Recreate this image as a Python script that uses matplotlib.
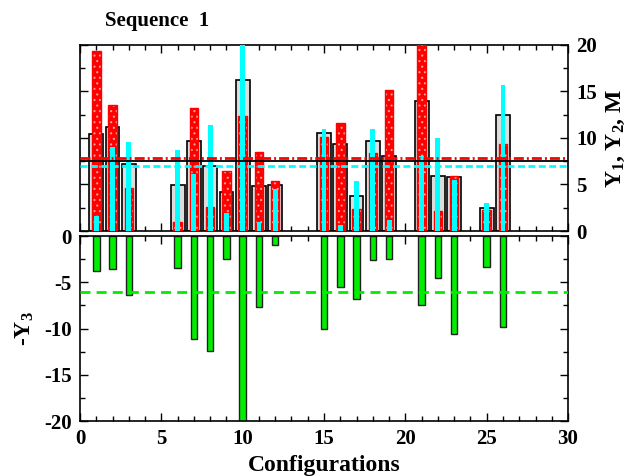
import matplotlib
matplotlib.use("Agg")
import matplotlib.pyplot as plt
from matplotlib.ticker import MultipleLocator

plt.rcParams['font.family'] = 'Liberation Serif'
plt.rcParams['font.weight'] = 'bold'
plt.rcParams['axes.unicode_minus'] = False
plt.rcParams['mathtext.fontset'] = 'custom'
plt.rcParams['mathtext.rm'] = 'Liberation Serif:bold'
plt.rcParams['mathtext.it'] = 'Liberation Serif:bold'
plt.rcParams['mathtext.bf'] = 'Liberation Serif:bold'
plt.rcParams['mathtext.default'] = 'rm'
plt.rcParams['hatch.linewidth'] = 0.8

# configurations and values
config = [1, 2, 3, 6, 7, 8, 9, 10, 11, 12, 15, 16, 17, 18, 19, 21, 22, 23, 25, 26]
m_vals = [10.4, 11.2, 7.2, 4.9, 9.7, 7.0, 4.2, 16.2, 4.8, 4.9,
          10.5, 9.4, 3.8, 9.7, 8.1, 14.0, 5.9, 5.8, 2.5, 12.5]
y1_vals = [19.3, 13.5, 4.6, 1.0, 13.2, 2.6, 6.5, 12.4, 8.5, 5.4,
           10.1, 11.6, 2.4, 8.4, 15.2, 21.0, 2.1, 5.9, 2.25, 9.4]
y2_vals = [1.65, 9.0, 9.6, 8.7, 6.1, 11.4, 1.9, 21.0, 1.0, 4.5,
           11.0, 0.6, 5.4, 11.0, 1.2, 8.1, 10.0, 5.5, 3.0, 15.7]
y3_vals = [-3.75, -3.6, -6.4, -3.5, -11.1, -12.4, -2.45, -20.5, -7.7, -1.0,
           -10.0, -5.55, -6.85, -2.6, -2.5, -7.5, -4.5, -10.55, -3.3, -9.8]
m_mean = 7.55
y1_mean = 7.85
y2_mean = 7.0
y3_mean = -6.05

fig = plt.figure(figsize=(6.27, 4.76), dpi=100)
ax1 = fig.add_axes([0.1276, 0.5147, 0.7784, 0.3908])
ax2 = fig.add_axes([0.1276, 0.1155, 0.7784, 0.3887])

# top panel
ax1.bar(config, m_vals, width=0.85, color='#dcdcdc', edgecolor='black', linewidth=1.2, zorder=2)
ax1.bar(config, y1_vals, width=0.52, color='#ff0000', edgecolor='#ff9c9c', hatch='...', linewidth=0, zorder=3)
ax1.bar(config, y1_vals, width=0.52, fill=False, edgecolor='red', linewidth=1.0, zorder=3)
ax1.bar(config, y2_vals, width=0.3, color='cyan', linewidth=0, zorder=4)
ax1.axhline(m_mean, color='black', lw=1.3, zorder=5)
ax1.axhline(y1_mean, color='red', lw=2, dashes=(3.6, 1.1, 0.7, 1.1), zorder=5)
ax1.axhline(y2_mean, color='cyan', lw=2, dashes=(2.5, 1.25), zorder=5)
ax1.set_xlim(0, 30)
ax1.set_ylim(0, 20)
ax1.yaxis.tick_right()
ax1.set_ylabel('Y$_1$, Y$_2$, M', fontsize=17, fontweight='bold', rotation=90)
ax1.yaxis.set_label_position('right')
ax1.yaxis.set_label_coords(1.075, 0.5)
ax1.tick_params(axis='x', labelbottom=False)
ax1.set_yticks([0, 5, 10, 15, 20])

# bottom panel
ax2.bar(config, y3_vals, width=0.4, color='#00ee00', edgecolor='#222222', linewidth=1.0, zorder=2)
ax2.axhline(y3_mean, color='#00ee00', lw=2, dashes=(3.6, 2.2), zorder=3)
ax2.set_xlim(0, 30)
ax2.set_ylim(-20, 0)
ax2.set_yticks([0, -5, -10, -15, -20])
ax2.set_xlabel('Configurations', fontsize=17, fontweight='bold', labelpad=4)
ax2.set_ylabel('-Y$_3$', fontsize=17, fontweight='bold', labelpad=6)

for ax in (ax1, ax2):
    ax.xaxis.set_major_locator(MultipleLocator(5))
    ax.xaxis.set_minor_locator(MultipleLocator(1))
    ax.yaxis.set_minor_locator(MultipleLocator(2.5))
    ax.tick_params(which='both', direction='in', top=True, bottom=True, left=True, right=True,
                   labelsize=15, width=1)
    ax.tick_params(which='major', length=6, pad=6)
    ax.tick_params(which='minor', length=3.5)
    for s in ax.spines.values():
        s.set_linewidth(1.2)

fig.text(0.168, 0.955, 'Sequence  1', fontsize=15, fontweight='bold', ha='left', va='center')

fig.savefig('out.png', dpi=100)
